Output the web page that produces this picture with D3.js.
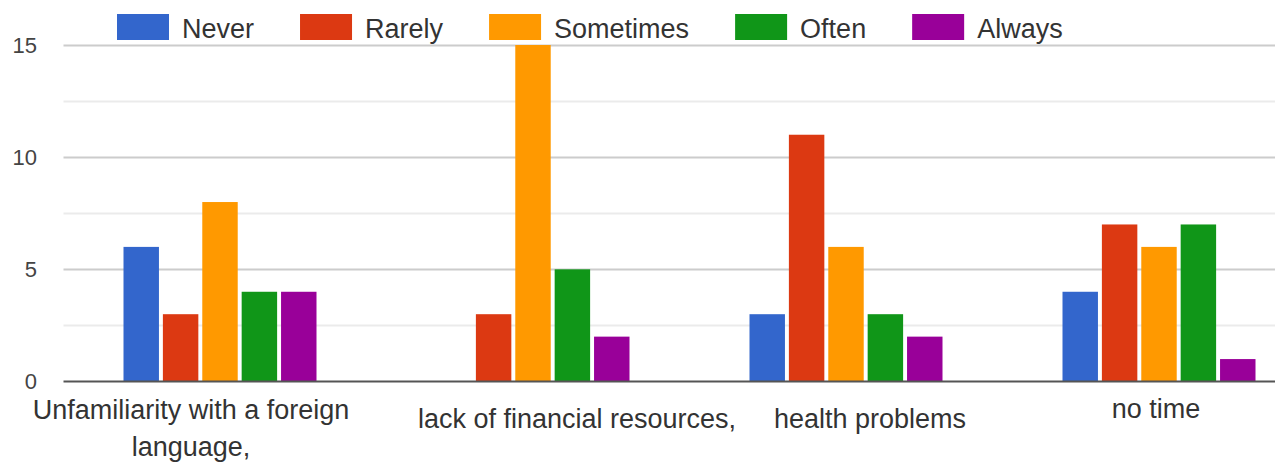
<!DOCTYPE html>
<html>
<head>
<meta charset="utf-8">
<script src="https://cdn.jsdelivr.net/npm/d3@7"></script>
<style>
  html, body { margin: 0; padding: 0; background: #fff; overflow: hidden; }
  svg { display: block; font-family: "Liberation Sans", Arial, sans-serif; }
</style>
</head>
<body>
<svg id="chart" width="1275" height="470"></svg>
<script>
// Reasons categories (x axis)
const categories = [
  "Unfamiliarity with a foreign language,",
  "lack of financial resources,",
  "health problems",
  "no time"
];
// Frequency series (legend order)
const seriesNames = ["Never", "Rarely", "Sometimes", "Often", "Always"];
const seriesColors = ["#3366cc", "#dc3912", "#ff9900", "#109618", "#990099"];
// Counts per category, one array per series
const never     = [6, 0, 3, 4];
const rarely    = [3, 3, 11, 7];
const sometimes = [8, 15, 6, 6];
const often     = [4, 5, 3, 7];
const always    = [4, 2, 2, 1];
const seriesValues = [never, rarely, sometimes, often, always];
// Axis ticks
const majorTicks = [0, 5, 10, 15];
const minorTicks = [2.5, 7.5, 12.5];

const svg = d3.select("#chart");
const W = 1275, H = 470;
const plot = { left: 63.5, right: 1315.5, top: 45, bottom: 381.5 };

const x0 = d3.scaleBand().domain(categories).range([plot.left, plot.right]).padding(0);
const groupW = 193;
const x1 = d3.scaleBand().domain(seriesNames).range([0, groupW]).paddingInner(0.1).paddingOuter(0);
const y = d3.scaleLinear().domain([0, 15]).range([plot.bottom, plot.top]);

// Gridlines
const grid = svg.append("g");
grid.selectAll("line.minor").data(minorTicks).join("line")
  .attr("class", "minor")
  .attr("x1", plot.left).attr("x2", W)
  .attr("y1", d => Math.round(y(d)) + 0.5).attr("y2", d => Math.round(y(d)) + 0.5)
  .attr("stroke", "#ebebeb").attr("stroke-width", 2);
grid.selectAll("line.major").data(majorTicks.filter(d => d !== 0)).join("line")
  .attr("class", "major")
  .attr("x1", plot.left).attr("x2", W)
  .attr("y1", d => Math.round(y(d)) + 0.5).attr("y2", d => Math.round(y(d)) + 0.5)
  .attr("stroke", "#cccccc").attr("stroke-width", 2);

// Bars
const groups = svg.append("g").selectAll("g").data(categories).join("g")
  .attr("transform", d => `translate(${x0(d) + (x0.bandwidth() - groupW) / 2},0)`);
groups.selectAll("rect")
  .data((c, ci) => seriesNames.map((s, si) => ({ s, si, v: seriesValues[si][ci] })))
  .join("rect")
  .attr("x", d => x1(d.s))
  .attr("width", x1.bandwidth())
  .attr("y", d => y(d.v))
  .attr("height", d => y(0) - y(d.v))
  .attr("fill", d => seriesColors[d.si]);

// Baseline
svg.append("line")
  .attr("x1", plot.left).attr("x2", W)
  .attr("y1", y(0)).attr("y2", y(0))
  .attr("stroke", "#555").attr("stroke-width", 2);

// Y axis labels
const yAxis = d3.axisLeft(y).tickValues(majorTicks).tickSize(0).tickPadding(0);
const yg = svg.append("g").attr("transform", "translate(37,0)").call(yAxis);
yg.select(".domain").remove();
yg.selectAll("text")
  .attr("font-size", 22).attr("fill", "#444")
  .attr("font-family", "Liberation Sans, Arial, sans-serif");

// Category labels, wrapped when wider than the available width
const labelShift = [-29, 44, 24, -3];
const labelBase = [419, 428, 428, 418];
const maxLabelW = 330;
const catG = svg.append("g");
categories.forEach((c, i) => {
  const cx = x0(c) + x0.bandwidth() / 2 + labelShift[i];
  const t = catG.append("text")
    .attr("text-anchor", "middle")
    .attr("font-size", 27).attr("fill", "#333");
  const words = c.split(" ");
  let line = [];
  let lineNo = 0;
  let tspan = t.append("tspan").attr("x", cx).attr("y", labelBase[i]);
  words.forEach(w => {
    line.push(w);
    tspan.text(line.join(" "));
    if (tspan.node().getComputedTextLength() > maxLabelW && line.length > 1) {
      line.pop();
      tspan.text(line.join(" "));
      line = [w];
      lineNo++;
      tspan = t.append("tspan").attr("x", cx).attr("y", labelBase[i] + lineNo * 37).text(w);
    }
  });
});

// Legend
const legend = svg.append("g");
let lx = 117;
seriesNames.forEach((s, i) => {
  legend.append("rect")
    .attr("x", lx).attr("y", 14).attr("width", 52).attr("height", 26)
    .attr("fill", seriesColors[i]);
  const t = legend.append("text")
    .attr("x", lx + 65).attr("y", 38)
    .attr("font-size", 27).attr("fill", "#333")
    .text(s);
  lx += 65 + t.node().getComputedTextLength() + 46;
});
</script>
</body>
</html>
